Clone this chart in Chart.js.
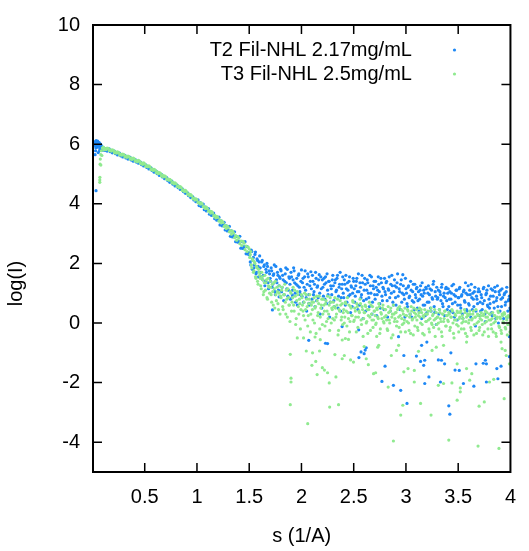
<!DOCTYPE html>
<html><head><meta charset="utf-8">
<script src="https://cdn.jsdelivr.net/npm/chart.js@4/dist/chart.umd.min.js"></script>
<style>html,body{margin:0;padding:0;background:#fff}canvas{display:block}</style>
</head><body>
<canvas id="c" width="529" height="551"></canvas>
<script>
const seriesLabels = ['T2 Fil-NHL 2.17mg/mL', 'T3 Fil-NHL 2.5mg/mL'];
const xTicks = [0.5, 1, 1.5, 2, 2.5, 3, 3.5, 4];
const yTicks = [-4, -2, 0, 2, 4, 6, 8, 10];
const xTitle = 's (1/A)';
const yTitle = 'log(I)';

// shared s grid (1/A)
const sGrid = [
0.02,0.03,0.04,0.05,0.06,0.07,0.08,0.09,0.10,
0.11,0.12,0.13,0.14,0.15,0.16,0.17,0.18,0.19,0.20,
0.21,0.22,0.23,0.24,0.25,0.26,0.27,0.28,0.29,0.30,
0.31,0.32,0.33,0.34,0.35,0.36,0.37,0.38,0.39,0.40,
0.41,0.42,0.43,0.44,0.45,0.46,0.47,0.48,0.49,0.50,
0.51,0.52,0.53,0.54,0.55,0.56,0.57,0.58,0.59,0.60,
0.61,0.62,0.63,0.64,0.65,0.66,0.67,0.68,0.69,0.70,
0.71,0.72,0.73,0.74,0.75,0.76,0.77,0.78,0.79,0.80,
0.81,0.82,0.83,0.84,0.85,0.86,0.87,0.88,0.89,0.90,
0.91,0.92,0.93,0.94,0.95,0.96,0.97,0.98,0.99,1.00,
1.01,1.02,1.03,1.04,1.05,1.06,1.07,1.08,1.09,1.10,
1.11,1.12,1.13,1.14,1.15,1.16,1.17,1.18,1.19,1.20,
1.21,1.22,1.23,1.24,1.25,1.26,1.27,1.28,1.29,1.30,
1.31,1.32,1.33,1.34,1.35,1.36,1.37,1.38,1.39,1.40,
1.41,1.42,1.43,1.44,1.45,1.46,1.47,1.48,1.49,1.50,
1.51,1.52,1.53,1.54,1.55,1.56,1.57,1.58,1.59,1.60,
1.61,1.62,1.63,1.64,1.65,1.66,1.67,1.68,1.69,1.70,
1.71,1.72,1.73,1.74,1.75,1.76,1.77,1.78,1.79,1.80,
1.81,1.82,1.83,1.84,1.85,1.86,1.87,1.88,1.89,1.90,
1.91,1.92,1.93,1.94,1.95,1.96,1.97,1.98,1.99,2.00,
2.01,2.02,2.03,2.04,2.05,2.06,2.07,2.08,2.09,2.10,
2.11,2.12,2.13,2.14,2.15,2.16,2.17,2.18,2.19,2.20,
2.21,2.22,2.23,2.24,2.25,2.26,2.27,2.28,2.29,2.30,
2.31,2.32,2.33,2.34,2.35,2.36,2.37,2.38,2.39,2.40,
2.41,2.42,2.43,2.44,2.45,2.46,2.47,2.48,2.49,2.50,
2.51,2.52,2.53,2.54,2.55,2.56,2.57,2.58,2.59,2.60,
2.61,2.62,2.63,2.64,2.65,2.66,2.67,2.68,2.69,2.70,
2.71,2.72,2.73,2.74,2.75,2.76,2.77,2.78,2.79,2.80,
2.81,2.82,2.83,2.84,2.85,2.86,2.87,2.88,2.89,2.90,
2.91,2.92,2.93,2.94,2.95,2.96,2.97,2.98,2.99,3.00,
3.01,3.02,3.03,3.04,3.05,3.06,3.07,3.08,3.09,3.10,
3.11,3.12,3.13,3.14,3.15,3.16,3.17,3.18,3.19,3.20,
3.21,3.22,3.23,3.24,3.25,3.26,3.27,3.28,3.29,3.30,
3.31,3.32,3.33,3.34,3.35,3.36,3.37,3.38,3.39,3.40,
3.41,3.42,3.43,3.44,3.45,3.46,3.47,3.48,3.49,3.50,
3.51,3.52,3.53,3.54,3.55,3.56,3.57,3.58,3.59,3.60,
3.61,3.62,3.63,3.64,3.65,3.66,3.67,3.68,3.69,3.70,
3.71,3.72,3.73,3.74,3.75,3.76,3.77,3.78,3.79,3.80,
3.81,3.82,3.83,3.84,3.85,3.86,3.87,3.88,3.89,3.90,
3.91,3.92,3.93,3.94,3.95,3.96,3.97,3.98,3.99,4.00
];

// T2 (blue) log(I) on the s grid
const t2LogI = [
6.02,5.78,6.08,5.95,6.00,5.85,5.97,5.92,5.80,
5.87,5.79,5.84,5.77,5.81,5.84,5.75,5.79,5.71,5.74,
5.77,5.68,5.72,5.64,5.67,5.70,5.61,5.65,5.57,5.60,
5.63,5.54,5.58,5.50,5.53,5.56,5.47,5.51,5.43,5.46,
5.48,5.40,5.43,5.36,5.38,5.40,5.31,5.35,5.27,5.29,
5.31,5.22,5.25,5.17,5.19,5.21,5.12,5.14,5.06,5.08,
5.10,5.01,5.03,4.95,4.97,4.99,4.90,4.92,4.84,4.86,
4.88,4.78,4.81,4.72,4.74,4.76,4.66,4.69,4.60,4.62,
4.63,4.54,4.56,4.48,4.49,4.50,4.41,4.43,4.35,4.36,
4.37,4.27,4.30,4.21,4.22,4.23,4.13,4.16,4.07,4.08,
4.13,3.94,4.04,3.91,3.93,3.99,3.80,3.89,3.76,3.78,
3.84,3.65,3.74,3.61,3.63,3.69,3.50,3.58,3.45,3.47,
3.55,3.29,3.43,3.26,3.29,3.38,3.12,3.26,3.09,3.12,
3.24,2.91,3.09,2.89,2.93,3.06,2.73,2.91,2.71,2.75,
2.91,2.51,2.74,2.50,2.56,2.73,2.32,2.56,2.31,2.37,
2.05,2.45,1.80,2.20,1.95,2.38,1.70,2.10,1.55,2.25,
1.70,2.05,1.45,1.90,1.25,1.80,2.00,1.35,1.75,1.50,
1.85,1.20,1.60,1.95,0.95,1.45,1.70,1.10,1.55,1.80,
1.05,1.60,0.75,1.40,1.85,1.15,0.90,1.55,1.30,1.70,
0.85,1.45,1.75,1.00,1.30,0.60,1.60,1.20,0.95,1.78,
1.35,0.70,1.55,1.10,0.40,1.65,0.95,1.25,1.72,0.80,
1.40,1.05,0.55,1.50,1.20,0.85,1.62,0.30,1.15,1.45,
0.90,1.30,1.55,0.65,1.10,1.40,0.20,1.25,0.95,1.60,
0.75,1.35,1.05,1.50,0.50,1.20,1.70,0.85,1.30,1.00,
1.45,0.60,1.15,1.35,0.90,1.55,0.35,1.20,1.00,1.40,
0.70,1.25,1.50,0.45,1.05,1.35,0.85,1.60,0.15,1.10,
1.30,0.80,1.45,1.00,0.55,1.25,1.55,0.70,1.15,0.95,
1.40,0.25,1.10,1.30,0.65,1.50,0.90,1.20,0.45,1.05,
1.35,0.75,1.15,1.55,0.40,1.00,1.25,0.60,1.45,0.85,
1.20,1.65,0.50,1.05,1.30,0.70,1.62,0.95,0.20,1.15,
0.65,1.20,0.85,0.30,1.10,0.75,1.30,0.45,0.95,1.15,
0.50,1.05,0.80,1.25,0.15,0.90,1.10,0.60,1.20,0.35,
1.00,0.70,1.15,0.40,0.85,1.30,0.55,1.05,-0.05,0.80,
1.10,0.45,0.95,1.20,0.65,0.90,0.25,1.15,0.75,1.00,
0.55,1.05,0.80,1.25,0.35,0.95,0.70,1.10,0.10,0.85,
1.15,0.60,0.90,0.30,1.05,0.75,1.35,0.45,0.95,0.65,
1.10,0.20,0.85,1.00,0.55,1.20,0.40,0.80,1.05,0.25,
0.70,0.95,0.45,1.15,0.75,0.05,1.00,0.60,1.25,0.50,
0.90,0.35,1.10,0.70,1.20,0.15,0.85,0.55,1.05,0.40,
0.80,1.15,0.30,0.95,0.60,1.05,0.20,0.75,0.90,0.45
];

// T3 (green) log(I) on the s grid
const t3LogI = [
null,null,null,null,null,4.80,5.30,5.62,5.88,
5.81,5.85,5.82,5.87,5.86,5.78,5.81,5.77,5.81,5.79,
5.71,5.74,5.70,5.74,5.72,5.64,5.67,5.63,5.67,5.65,
5.57,5.60,5.56,5.60,5.58,5.50,5.53,5.49,5.53,5.51,
5.43,5.45,5.41,5.46,5.43,5.35,5.37,5.32,5.37,5.34,
5.25,5.28,5.24,5.27,5.24,5.15,5.17,5.12,5.16,5.13,
5.04,5.07,5.01,5.05,5.02,4.93,4.96,4.90,4.94,4.91,
4.82,4.84,4.79,4.82,4.79,4.70,4.72,4.67,4.70,4.67,
4.58,4.60,4.54,4.58,4.54,4.45,4.47,4.41,4.45,4.41,
4.32,4.33,4.27,4.31,4.27,4.18,4.19,4.13,4.17,4.13,
4.04,4.05,3.99,4.03,3.99,3.90,3.91,3.84,3.89,3.84,
3.75,3.76,3.69,3.74,3.69,3.59,3.61,3.53,3.58,3.54,
3.42,3.45,3.36,3.42,3.37,3.24,3.28,3.17,3.25,3.20,
3.06,3.10,2.98,3.08,3.02,2.86,2.93,2.78,2.90,2.85,
2.66,2.75,2.60,2.74,2.68,2.46,2.58,2.40,2.55,2.49,
2.30,1.95,2.15,1.70,2.05,1.55,1.90,1.40,1.80,1.60,
1.25,1.70,1.45,1.05,1.60,1.35,0.85,1.50,1.20,1.40,
0.95,1.30,0.60,1.15,1.40,0.75,1.05,0.45,1.25,0.90,
1.10,0.55,0.95,1.30,0.30,0.80,1.15,0.60,0.05,1.00,
0.70,1.20,0.40,0.90,0.15,1.05,0.55,0.80,-0.20,0.95,
0.60,0.25,1.00,0.45,0.80,-0.10,0.65,0.95,0.30,0.70,
0.10,0.85,0.50,-0.35,0.75,0.35,0.90,0.20,0.60,-0.05,
0.80,0.40,0.65,0.05,0.90,0.30,-0.25,0.70,0.50,0.15,
0.55,0.85,0.20,0.60,-0.40,0.45,0.75,0.10,0.65,0.35,
0.00,0.70,0.40,0.85,0.15,-0.30,0.55,0.25,0.75,0.05,
0.50,0.20,0.65,-0.15,0.40,0.80,0.10,0.55,-0.45,0.35,
0.60,0.00,0.45,0.25,0.70,-0.25,0.30,0.55,0.10,0.40,
-0.05,0.50,0.20,0.65,-0.35,0.35,0.15,0.60,0.00,0.45,
0.25,-0.20,0.55,0.10,0.40,-0.50,0.30,0.60,0.05,0.35,
-0.10,0.45,0.20,0.55,-0.30,0.15,0.40,0.00,0.50,0.25,
0.05,0.40,-0.25,0.30,0.55,0.10,-0.40,0.35,0.20,0.45,
-0.15,0.25,0.50,0.00,0.35,-0.35,0.20,0.45,0.05,0.30,
0.40,-0.20,0.15,0.50,-0.05,0.30,0.10,-0.45,0.35,0.20,
0.00,0.45,0.15,-0.30,0.30,0.05,0.40,-0.10,0.25,0.10,
0.35,-0.25,0.20,0.45,0.00,-0.50,0.30,0.10,0.40,-0.10,
0.15,0.35,-0.20,0.25,0.05,0.45,-0.35,0.20,0.30,0.00,
0.40,-0.15,0.10,0.30,-0.40,0.20,0.45,0.00,0.25,-0.25,
0.15,0.35,-0.05,0.25,-0.30,0.40,0.05,0.20,-0.45,0.30,
0.10,-0.20,0.35,0.00,0.25,-0.35,0.15,0.40,-0.10,0.20,
-0.25,0.30,0.05,0.35,-0.15,0.20,-0.40,0.25,0.00,-0.05
];

// second, interleaved s grid for the noisy high-s part
const sGrid2 = [
1.505,1.515,1.525,1.535,1.545,1.555,1.565,1.575,1.585,1.595,
1.605,1.615,1.625,1.635,1.645,1.655,1.665,1.675,1.685,1.695,
1.705,1.715,1.725,1.735,1.745,1.755,1.765,1.775,1.785,1.795,
1.805,1.815,1.825,1.835,1.845,1.855,1.865,1.875,1.885,1.895,
1.905,1.915,1.925,1.935,1.945,1.955,1.965,1.975,1.985,1.995,
2.005,2.015,2.025,2.035,2.045,2.055,2.065,2.075,2.085,2.095,
2.105,2.115,2.125,2.135,2.145,2.155,2.165,2.175,2.185,2.195,
2.205,2.215,2.225,2.235,2.245,2.255,2.265,2.275,2.285,2.295,
2.305,2.315,2.325,2.335,2.345,2.355,2.365,2.375,2.385,2.395,
2.405,2.415,2.425,2.435,2.445,2.455,2.465,2.475,2.485,2.495,
2.505,2.515,2.525,2.535,2.545,2.555,2.565,2.575,2.585,2.595,
2.605,2.615,2.625,2.635,2.645,2.655,2.665,2.675,2.685,2.695,
2.705,2.715,2.725,2.735,2.745,2.755,2.765,2.775,2.785,2.795,
2.805,2.815,2.825,2.835,2.845,2.855,2.865,2.875,2.885,2.895,
2.905,2.915,2.925,2.935,2.945,2.955,2.965,2.975,2.985,2.995,
3.005,3.015,3.025,3.035,3.045,3.055,3.065,3.075,3.085,3.095,
3.105,3.115,3.125,3.135,3.145,3.155,3.165,3.175,3.185,3.195,
3.205,3.215,3.225,3.235,3.245,3.255,3.265,3.275,3.285,3.295,
3.305,3.315,3.325,3.335,3.345,3.355,3.365,3.375,3.385,3.395,
3.405,3.415,3.425,3.435,3.445,3.455,3.465,3.475,3.485,3.495,
3.505,3.515,3.525,3.535,3.545,3.555,3.565,3.575,3.585,3.595,
3.605,3.615,3.625,3.635,3.645,3.655,3.665,3.675,3.685,3.695,
3.705,3.715,3.725,3.735,3.745,3.755,3.765,3.775,3.785,3.795,
3.805,3.815,3.825,3.835,3.845,3.855,3.865,3.875,3.885,3.895,
3.905,3.915,3.925,3.935,3.945,3.955,3.965,3.975,3.985,3.995
];
const t2LogI2 = [
2.28,1.95,2.40,2.10,1.85,2.30,1.65,2.15,1.90,2.05,
1.85,1.55,2.10,1.60,1.95,1.40,1.70,1.90,1.15,1.65,
1.40,1.75,1.30,1.65,1.05,1.90,1.35,1.60,1.25,1.50,
1.75,1.20,1.45,0.95,1.65,1.35,1.80,1.10,1.50,0.80,
1.55,1.10,1.85,1.35,0.70,1.50,1.25,1.65,1.05,1.40,
0.90,1.50,1.20,1.75,0.85,1.30,1.55,0.60,1.40,1.15,
1.60,0.95,1.30,1.70,0.75,1.25,1.45,1.00,1.55,0.50,
1.20,1.50,0.80,1.35,1.65,0.95,1.40,0.70,1.15,1.45,
1.25,0.55,1.45,1.10,1.60,0.90,1.30,0.40,1.15,1.55,
0.85,1.30,1.60,0.70,1.10,1.40,0.95,1.25,0.55,1.50,
1.15,0.90,1.40,1.05,1.65,0.60,1.20,0.95,1.35,0.75,
1.50,0.40,1.10,1.35,0.85,1.60,1.00,0.30,1.25,1.40,
0.80,1.20,0.95,1.55,1.05,0.50,1.35,0.75,1.15,1.50,
0.95,1.40,0.20,1.10,0.85,1.30,1.60,0.70,1.05,1.25,
0.60,1.35,0.90,1.15,0.45,1.45,1.00,1.25,0.80,1.50,
1.00,0.55,1.25,0.90,1.40,0.20,1.05,0.70,1.30,0.85,
1.20,0.75,0.40,1.10,0.95,1.35,0.60,1.00,0.25,1.15,
0.70,1.25,0.95,0.50,1.10,0.80,1.40,0.35,0.90,1.20,
0.85,0.30,1.05,0.75,1.30,0.55,1.00,0.85,1.20,0.45,
1.15,0.80,0.40,1.00,0.65,1.30,0.20,0.90,1.10,0.60,
0.85,1.20,0.50,0.95,0.15,1.10,0.70,1.00,0.40,1.25,
0.60,0.95,1.30,0.45,0.80,1.05,-0.10,0.90,0.65,1.15,
1.05,0.40,0.85,0.65,1.20,0.30,0.95,1.10,0.55,0.80,
0.65,1.15,0.25,0.90,0.50,1.05,0.75,1.25,0.00,0.95,
1.10,0.55,0.85,0.15,1.00,0.70,1.20,0.40,0.80,0.50
];
const t3LogI2 = [
2.20,2.40,1.85,2.10,1.75,2.00,1.50,1.85,1.30,1.70,
1.50,1.15,1.55,0.95,1.35,1.10,1.45,0.80,1.25,1.00,
1.20,0.70,1.05,1.35,0.50,0.95,1.20,0.65,1.00,0.30,
0.85,1.20,0.45,0.95,0.70,1.10,0.20,0.85,0.60,1.05,
0.40,0.85,0.60,1.10,-0.05,0.75,0.95,0.30,0.65,0.45,
0.85,0.40,0.70,0.10,0.95,0.55,0.25,0.80,-0.30,0.60,
0.45,0.70,0.00,0.55,0.90,0.25,0.65,-0.20,0.50,0.80,
0.30,0.60,-0.10,0.75,0.40,0.15,0.60,0.85,0.00,0.45,
0.70,0.10,0.50,0.30,0.80,-0.25,0.40,0.60,0.20,-0.05,
0.45,0.20,0.65,-0.10,0.35,0.60,0.05,0.50,0.25,0.70,
0.10,0.40,-0.30,0.55,0.20,0.35,0.65,-0.05,0.45,0.15,
0.35,0.55,0.05,-0.35,0.45,0.20,0.60,0.10,-0.15,0.40,
0.25,0.00,0.45,0.15,0.55,-0.20,0.30,0.50,0.05,0.20,
0.45,0.10,-0.25,0.35,0.00,0.50,0.20,-0.40,0.30,0.15,
0.35,0.05,0.50,-0.15,0.25,0.45,-0.05,0.30,0.10,-0.30,
0.25,0.45,0.00,0.20,-0.35,0.40,0.15,0.50,-0.10,0.30,
0.10,-0.25,0.35,0.20,0.45,-0.05,0.25,-0.40,0.30,0.05,
0.30,0.10,-0.30,0.40,0.00,0.25,-0.15,0.45,0.15,-0.05,
0.20,-0.20,0.35,0.05,-0.45,0.30,0.15,0.40,-0.10,0.25,
0.05,0.30,-0.15,0.20,0.40,-0.35,0.10,0.25,-0.05,0.35,
-0.30,0.20,0.40,0.00,0.15,-0.20,0.35,0.05,-0.45,0.25,
0.10,0.30,-0.25,0.15,0.40,-0.05,0.20,-0.35,0.30,0.05,
-0.15,0.25,0.10,-0.40,0.30,0.00,0.20,0.35,-0.20,0.10,
0.30,-0.05,0.15,-0.30,0.25,0.05,-0.45,0.20,0.35,-0.15,
0.15,-0.35,0.25,0.00,0.30,-0.20,0.10,-0.05,0.20,-0.30
];

// off-grid points [s, log(I)]
const t2Extra = [
[0.025,5.65],[0.028,5.95],[0.035,6.12],[0.045,5.90],[0.050,6.10],[0.055,5.72],[0.065,6.05],[0.075,5.93],[0.085,5.80],[0.034,4.44],
[0.022,6.08],[0.032,5.88],[0.042,6.02],[0.058,5.95],[0.068,5.78],[0.078,6.00],[0.088,5.90],
[1.722,0.44],[1.786,0.88],[1.913,0.94],[2.071,0.66],[2.389,-0.12],[2.548,-0.23],[2.929,-0.46],[3.99,-0.46],[3.99,-1.13],
[2.07,-0.58],[2.23,-0.68],[2.25,-0.69],[2.57,-0.97],[2.60,-1.03],[2.55,-1.16],[2.62,-0.83],[2.61,-0.91],
[2.77,-1.96],[2.88,-2.09],[2.95,-2.26],[3.01,-2.70],[3.22,-1.81],[3.33,-1.98],[3.41,-2.78],[3.42,-3.06],[3.55,-2.03],[3.65,-2.12],
[3.77,-1.98],[3.88,-1.87],[2.80,-1.45],[3.10,-1.11],[3.14,-1.29],[3.18,-1.25],[3.17,-1.42],[3.34,-1.25],[3.37,-1.37],[3.43,-1.00],
[3.51,-1.59],[3.67,-1.37],[3.76,-1.25],[3.77,-1.37],[3.87,-1.53],[3.91,-1.45],[3.18,-2.03],[2.98,-1.09],[3.20,-0.64],[3.15,-0.75],
[3.31,-1.24],[3.47,-1.58],[3.74,-1.35]
];
const t3Extra = [
[0.070,4.72],[0.071,4.89],[0.073,5.33],[0.075,5.50],[0.080,5.65],[0.085,5.78],[0.095,5.87],[0.105,5.90],
[1.893,-2.74],[2.06,-3.38],[2.27,-2.82],[2.355,-2.74],[1.90,-1.85],[1.90,-1.98],[2.10,-1.42],[2.15,-1.73],[2.20,-1.50],[2.22,-1.58],
[2.25,-1.67],[2.266,-2.01],[2.33,-1.81],[1.893,-1.05],[2.046,-0.94],[2.106,-1.00],[2.173,-0.94],[2.137,-1.29],[2.32,-1.06],[2.41,-1.09],
[2.39,-1.20],[2.498,-1.31],[2.62,-1.20],[2.64,-1.40],[2.69,-1.70],
[2.88,-3.96],[3.41,-3.93],[3.69,-4.13],[3.89,-4.21],[2.95,-3.09],[2.97,-2.76],[3.14,-2.70],[3.24,-3.09],[3.49,-2.59],[3.52,-2.31],
[3.70,-2.79],[3.75,-2.65],[3.94,-2.54],[2.83,-2.15],[3.08,-1.98],[3.31,-2.09],[3.36,-2.03],[3.44,-2.01],[3.52,-2.18],[3.61,-1.92],
[3.84,-1.89],[3.80,-1.98],[2.98,-1.64],[3.02,-1.53],[3.08,-1.59],[2.71,-1.67],[2.86,-1.09],[2.91,-0.92],[2.93,-0.75],[3.12,-0.95],
[3.25,-0.92],[3.29,-0.81],[3.36,-0.75],[3.49,-1.37],[3.58,-1.53],[3.63,-1.70],[3.96,-1.09],[3.99,-1.37],[3.95,-0.92],[3.92,-0.86],
[3.91,-0.64],[2.74,-0.75],[2.73,-0.81],[3.58,-0.64],
[1.96,-0.50],[2.02,-0.50],[2.13,-0.47],[2.18,-0.56],[2.42,-0.52],[2.45,-0.55],[2.72,-0.45],
[2.47,-1.24],[2.60,-0.79],[2.39,-0.57]
];

const BLUE = 'rgb(30,136,245)';
const GREEN = 'rgb(144,234,144)';
const FONT = "'Liberation Sans', Arial, Helvetica, sans-serif";
const FS = 20;

function toPoints(grids, extra) {
  const pts = [];
  grids.forEach(([sArr, vals]) => {
    sArr.forEach((s, i) => { if (vals[i] !== null && vals[i] !== undefined) pts.push({x: s, y: vals[i]}); });
  });
  extra.forEach(p => pts.push({x: p[0], y: p[1]}));
  return pts;
}

const framePlugin = {
  id: 'frame',
  afterDatasetsDraw(chart) {
    const {ctx, chartArea: a, scales: {x, y}} = chart;
    ctx.save();
    ctx.strokeStyle = '#000';
    ctx.lineWidth = 1.5;
    const L = 9;
    ctx.beginPath();
    xTicks.forEach(v => {
      const px = x.getPixelForValue(v);
      if (px < a.right - 2) {
        ctx.moveTo(px, a.bottom); ctx.lineTo(px, a.bottom - L);
        ctx.moveTo(px, a.top); ctx.lineTo(px, a.top + L);
      }
    });
    yTicks.forEach(v => {
      const py = y.getPixelForValue(v);
      if (py > a.top + 2 && py < a.bottom - 2) {
        ctx.moveTo(a.left, py); ctx.lineTo(a.left + L, py);
        ctx.moveTo(a.right, py); ctx.lineTo(a.right - L, py);
      }
    });
    ctx.stroke();
    ctx.lineWidth = 2;
    ctx.strokeRect(a.left, a.top, a.right - a.left, a.bottom - a.top);

    // legend
    ctx.font = FS + 'px ' + FONT;
    ctx.textAlign = 'right';
    ctx.textBaseline = 'middle';
    const ds = chart.data.datasets;
    const textRight = a.left + (a.right - a.left) * 0.764;
    const markX = a.left + (a.right - a.left) * 0.866;
    ds.forEach((d, i) => {
      const ly = a.top + 25 + i * 24;
      ctx.fillStyle = '#000';
      ctx.fillText(d.label, textRight, ly);
      ctx.fillStyle = d.backgroundColor;
      ctx.beginPath();
      ctx.arc(markX, ly, 1.6, 0, Math.PI * 2);
      ctx.fill();
    });

    // axis titles
    ctx.fillStyle = '#000';
    ctx.textAlign = 'center';
    ctx.textBaseline = 'middle';
    ctx.fillText(xTitle, (a.left + a.right) / 2, a.bottom + 64);
    ctx.save();
    ctx.translate(16, (a.top + a.bottom) / 2 + 35);
    ctx.rotate(-Math.PI / 2);
    ctx.fillText(yTitle, 0, 0);
    ctx.restore();
    ctx.restore();
  }
};

new Chart(document.getElementById('c'), {
  type: 'scatter',
  data: {
    datasets: [
      {label: seriesLabels[0], data: toPoints([[sGrid, t2LogI], [sGrid2, t2LogI2]], t2Extra),
       backgroundColor: BLUE, borderWidth: 0, pointRadius: 1.6, pointHoverRadius: 1.6, order: 1},
      {label: seriesLabels[1], data: toPoints([[sGrid, t3LogI], [sGrid2, t3LogI2]], t3Extra),
       backgroundColor: GREEN, borderWidth: 0, pointRadius: 1.6, pointHoverRadius: 1.6, order: 0}
    ]
  },
  options: {
    responsive: false,
    animation: false,
    devicePixelRatio: 1,
    layout: {padding: {top: 24, right: 17, left: 0, bottom: 0}},
    plugins: {legend: {display: false}, tooltip: {enabled: false}},
    events: [],
    scales: {
      x: {
        type: 'linear', min: 0.005, max: 4,
        afterBuildTicks: s => { s.ticks = xTicks.map(v => ({value: v})); },
        afterFit: s => { s.height = 79; },
        grid: {display: false, drawTicks: false},
        border: {display: false},
        ticks: {color: '#000', font: {family: FONT, size: FS}, padding: 13, maxRotation: 0, autoSkip: false,
                callback: v => String(v)}
      },
      y: {
        type: 'linear', min: -5, max: 10,
        afterBuildTicks: s => { s.ticks = yTicks.map(v => ({value: v})); },
        afterFit: s => { s.width = 93; },
        grid: {display: false, drawTicks: false},
        border: {display: false},
        ticks: {color: '#000', font: {family: FONT, size: FS}, padding: 13, autoSkip: false,
                callback: v => String(v)}
      }
    }
  },
  plugins: [framePlugin]
});
</script>
</body></html>
